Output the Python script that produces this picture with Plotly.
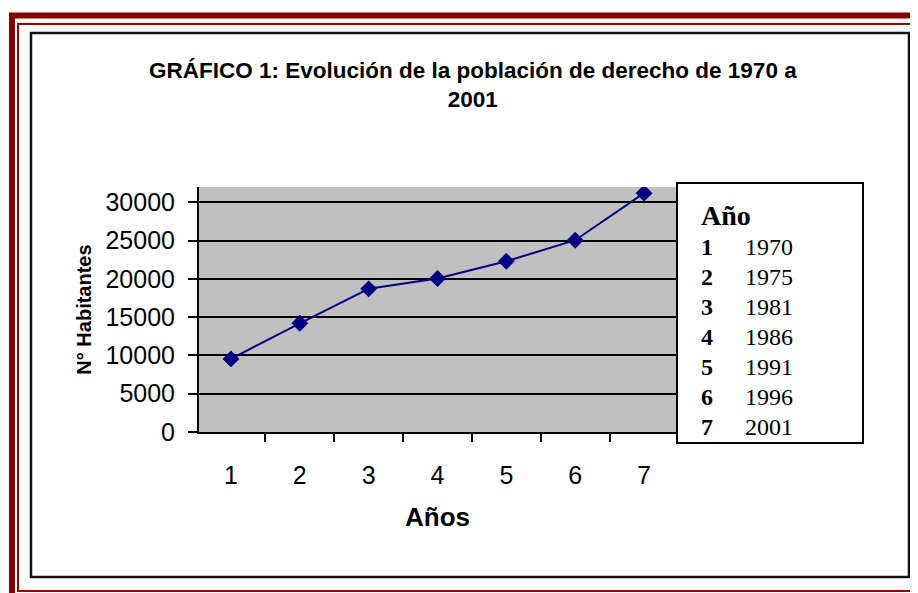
import plotly.graph_objects as go

# data
anos_idx = ["1", "2", "3", "4", "5", "6", "7"]
habitantes = [9550, 14200, 18700, 20050, 22300, 25050, 31200]
legend_nums = ["1", "2", "3", "4", "5", "6", "7"]
legend_years = ["1970", "1975", "1981", "1986", "1991", "1996", "2001"]

W, H = 918, 593
OFF = 8  # page body margin
def px(x):
    return (x - OFF) / W
def py(y):
    return 1 - (y - OFF) / H

ARIAL = "Liberation Sans, Arial"
TIMES = "Liberation Serif, Times New Roman"

fig = go.Figure()
fig.add_trace(go.Scatter(
    x=anos_idx, y=habitantes, mode="lines+markers",
    line=dict(color="#000080", width=2),
    marker=dict(symbol="diamond", size=13, color="#000080"),
    showlegend=False,
))

shapes = [
    # outer dark red frame
    dict(type="rect", xref="paper", yref="paper", x0=px(12), y0=py(15.5), x1=px(960), y1=py(640),
         line=dict(color="#800000", width=6)),
    # thin red frame
    dict(type="rect", xref="paper", yref="paper", x0=px(18), y0=py(24), x1=px(940), y1=py(591),
         line=dict(color="#990000", width=2)),
    # black chart border
    dict(type="rect", xref="paper", yref="paper", x0=px(31), y0=py(33), x1=px(909), y1=py(577),
         line=dict(color="#111111", width=2.5)),
    # legend box
    dict(type="rect", xref="paper", yref="paper", x0=px(677), y0=py(183), x1=px(863), y1=py(443),
         line=dict(color="black", width=2), fillcolor="white", layer="above"),
]

annotations = [
    dict(text="<b>Año</b>", xref="paper", yref="paper", x=px(699), y=py(215), xanchor="left",
         yanchor="middle", showarrow=False, font=dict(family=TIMES, size=28, color="black")),
]
for i, (n, yr) in enumerate(zip(legend_nums, legend_years)):
    yy = 247 + i * 30
    annotations.append(dict(text="<b>" + n + "</b>", xref="paper", yref="paper", x=px(699), y=py(yy),
                            xanchor="left", yanchor="middle", showarrow=False,
                            font=dict(family=TIMES, size=24, color="black")))
    annotations.append(dict(text=yr, xref="paper", yref="paper", x=px(743), y=py(yy),
                            xanchor="left", yanchor="middle", showarrow=False,
                            font=dict(family=TIMES, size=24, color="black")))

annotations.append(dict(
    text="<b>GRÁFICO 1: Evolución de la población de derecho de 1970 a<br>2001</b>",
    xref="paper", yref="paper", x=px(473), y=py(85), xanchor="center", yanchor="middle",
    showarrow=False, font=dict(family=ARIAL, size=22.5, color="black")))

fig.update_layout(
    width=W, height=H,
    margin=dict(l=0, r=0, t=0, b=0),
    paper_bgcolor="white",
    plot_bgcolor="#C0C0C0",
    shapes=shapes,
    annotations=annotations,
    xaxis=dict(
        domain=[px(199), px(676)], type="category", automargin=False,
        showline=True, linecolor="black", linewidth=2, mirror=False,
        ticks="outside", ticklen=8, tickwidth=2, tickcolor="black", tickson="boundaries",
        showgrid=False, ticklabelstandoff=20,
        tickfont=dict(family=ARIAL, size=25, color="black"),
        title=dict(text="<b>Años</b>", font=dict(family=ARIAL, size=26, color="black"), standoff=20),
    ),
    yaxis=dict(
        domain=[py(432), py(187)], range=[0, 32000], automargin=False,
        tickvals=[0, 5000, 10000, 15000, 20000, 25000, 30000], tickformat="d",
        showline=True, linecolor="black", linewidth=2,
        ticks="outside", ticklen=9, tickwidth=2, tickcolor="black",
        showgrid=True, gridcolor="black", gridwidth=1.5, zeroline=False,
        ticklabelstandoff=8,
        tickfont=dict(family=ARIAL, size=25, color="black"),
        title=dict(text="<b>N° Habitantes</b>", font=dict(family=ARIAL, size=20, color="black"), standoff=8),
    ),
)

fig.write_html("out.html")
